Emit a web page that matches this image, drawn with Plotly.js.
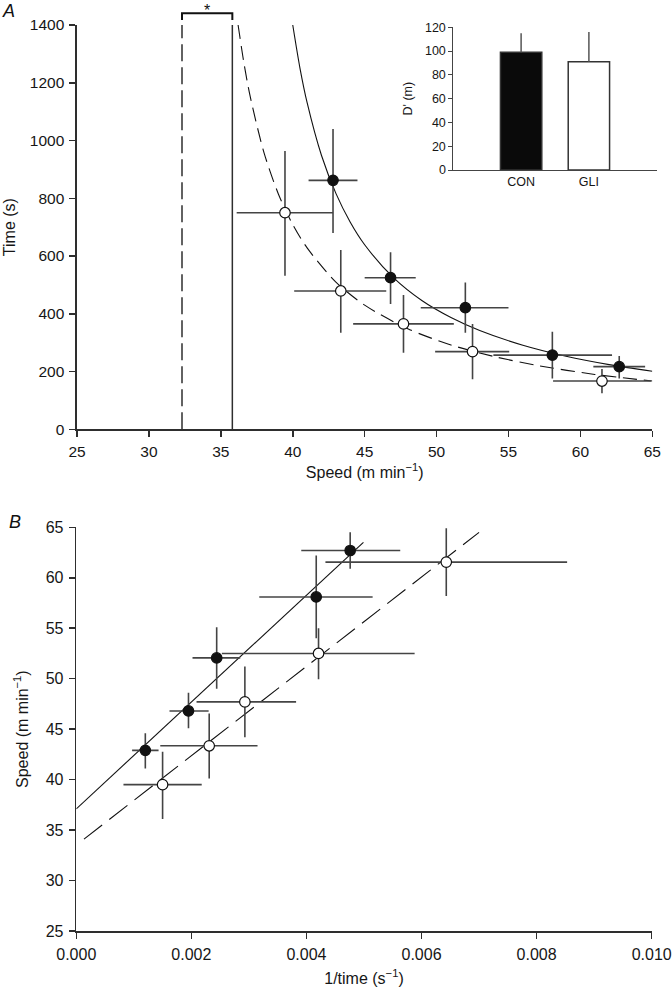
<!DOCTYPE html>
<html>
<head>
<meta charset="utf-8">
<script src="https://cdn.plot.ly/plotly-3.0.1.min.js"></script>
<style>html,body{margin:0;padding:0;background:#fff;}#chart{width:672px;height:987px;}</style>
</head>
<body>
<div id="chart"></div>
<script>
// ---------- Panel A: time vs speed ----------
var conSpeed   = [42.8, 46.8, 52.0, 58.05, 62.7];
var conTime    = [862, 525, 421, 257, 217];
var conSpeedLo = [41.1, 45.0, 48.9, 53.95, 60.9];
var conSpeedHi = [44.5, 48.55, 55.0, 62.2, 64.5];
var conTimeLo  = [680, 434, 334, 176, 176];
var conTimeHi  = [1040, 613, 508, 338, 254];

var gliSpeed   = [39.46, 43.34, 47.7, 52.5, 61.5];
var gliTime    = [750, 479, 365, 269, 167];
var gliSpeedLo = [36.1, 40.1, 44.2, 49.9, 58.1];
var gliSpeedHi = [42.8, 46.5, 51.2, 55.05, 64.9];
var gliTimeLo  = [532, 334, 265, 173, 125];
var gliTimeHi  = [964, 621, 465, 365, 209];

// hyperbolic fit curves
var conCurveSpeed = [40.0, 40.5, 41, 42, 43, 44, 45, 47, 49, 51, 53, 56, 59, 62, 65];
var conCurveTime  = [1400, 1251, 1131, 948, 817, 717, 639, 525, 445, 387, 342, 291, 253, 224, 201];
var gliCurveSpeed = [36.2, 36.6, 37, 38, 39, 40, 41, 43, 45, 48, 51, 54, 57, 61, 65];
var gliCurveTime  = [1400, 1270, 1162, 958, 815, 709, 628, 510, 430, 348, 292, 252, 221, 190, 167];

// critical speed (vertical lines): [CON, GLI]
var criticalSpeed = [35.8, 32.3];
var timeAxisMax = 1400;

// ---------- Inset: D' ----------
var groups = ['CON', 'GLI'];
var dPrime = [99, 91];
var dPrimeErr = [16, 25];

// ---------- Panel B: speed vs 1/time ----------
var conInv   = [0.00120, 0.00195, 0.00244, 0.00417, 0.00476];
var conSpd   = [42.9, 46.8, 52.06, 58.1, 62.7];
var conInvLo = [0.00097, 0.00162, 0.00202, 0.00318, 0.00391];
var conInvHi = [0.00143, 0.00230, 0.00285, 0.00515, 0.00563];
var conSpdLo = [41.1, 45.1, 49.0, 54.0, 60.9];
var conSpdHi = [44.6, 48.6, 55.1, 62.2, 64.5];

var gliInv   = [0.00150, 0.00231, 0.00293, 0.00421, 0.00643];
var gliSpd   = [39.5, 43.35, 47.7, 52.5, 61.55];
var gliInvLo = [0.00082, 0.00146, 0.00209, 0.00253, 0.00433];
var gliInvHi = [0.00218, 0.00315, 0.00382, 0.00588, 0.00853];
var gliSpdLo = [36.1, 40.1, 44.2, 49.95, 58.2];
var gliSpdHi = [42.75, 46.55, 51.2, 55.0, 64.9];

var conFitX = [0, 0.00499];
var conFitY = [37.1, 63.5];
var gliFitX = [0.000134, 0.0070];
var gliFitY = [34.1, 64.5];

// ---------- helpers ----------
function diff(a, b) { return a.map(function (v, i) { return v - b[i]; }); }
var FONT = 'Liberation Sans, Arial, Helvetica, sans-serif';
var AX = '#2e2e2e';
var ERR = '#444444';
var TXT = '#161616';
var DASH_A = '14px,7px';
var DASH_B = '23px,9px';

function pts(x, y, xlo, xhi, ylo, yhi, filled, xa, ya) {
  return {
    x: x, y: y, xaxis: xa, yaxis: ya, type: 'scatter', mode: 'markers',
    marker: { size: 10.5, color: filled ? '#111111' : '#ffffff', line: { color: '#111111', width: 1.2 } },
    error_x: { type: 'data', symmetric: false, array: diff(xhi, x), arrayminus: diff(x, xlo), width: 0, thickness: 1.6, color: ERR },
    error_y: { type: 'data', symmetric: false, array: diff(yhi, y), arrayminus: diff(y, ylo), width: 0, thickness: 1.6, color: ERR },
    showlegend: false, hoverinfo: 'x+y'
  };
}

var traces = [
  { x: conCurveSpeed, y: conCurveTime, xaxis: 'x', yaxis: 'y', type: 'scatter', mode: 'lines',
    line: { color: '#111', width: 1.1, shape: 'spline', smoothing: 0.8 }, showlegend: false },
  { x: gliCurveSpeed, y: gliCurveTime, xaxis: 'x', yaxis: 'y', type: 'scatter', mode: 'lines',
    line: { color: '#111', width: 1.1, dash: DASH_A, shape: 'spline', smoothing: 0.8 }, showlegend: false },
  { x: [criticalSpeed[0], criticalSpeed[0]], y: [0, timeAxisMax], xaxis: 'x', yaxis: 'y', type: 'scatter', mode: 'lines',
    line: { color: AX, width: 1.5 }, showlegend: false },
  { x: [criticalSpeed[1], criticalSpeed[1]], y: [0, timeAxisMax], xaxis: 'x', yaxis: 'y', type: 'scatter', mode: 'lines',
    line: { color: AX, width: 1.5, dash: '17px,6px' }, showlegend: false },
  pts(conSpeed, conTime, conSpeedLo, conSpeedHi, conTimeLo, conTimeHi, true, 'x', 'y'),
  pts(gliSpeed, gliTime, gliSpeedLo, gliSpeedHi, gliTimeLo, gliTimeHi, false, 'x', 'y'),

  { x: groups, y: dPrime, xaxis: 'x2', yaxis: 'y2', type: 'bar', width: 0.61,
    marker: { color: ['#0a0a0a', '#ffffff'], line: { color: '#333', width: 1.5 } },
    error_y: { type: 'data', symmetric: false, array: dPrimeErr, arrayminus: [0, 0], width: 0, thickness: 1.5, color: '#555' },
    showlegend: false },

  { x: conFitX, y: conFitY, xaxis: 'x3', yaxis: 'y3', type: 'scatter', mode: 'lines',
    line: { color: '#111', width: 1.1 }, showlegend: false },
  { x: gliFitX, y: gliFitY, xaxis: 'x3', yaxis: 'y3', type: 'scatter', mode: 'lines',
    line: { color: '#111', width: 1.1, dash: DASH_B }, showlegend: false },
  pts(conInv, conSpd, conInvLo, conInvHi, conSpdLo, conSpdHi, true, 'x3', 'y3'),
  pts(gliInv, gliSpd, gliInvLo, gliInvHi, gliSpdLo, gliSpdHi, false, 'x3', 'y3')
];

function axisBase(extra) {
  var a = {
    showline: true, linecolor: AX, linewidth: 1.6, ticks: 'outside', ticklen: 6, tickwidth: 1.5, tickcolor: AX,
    showgrid: false, zeroline: false, tickfont: { family: FONT, size: 15.5, color: TXT }, fixedrange: true,
    ticklabelstandoff: 2
  };
  for (var k in extra) a[k] = extra[k];
  return a;
}

var layout = {
  width: 672, height: 987,
  margin: { l: 0, r: 0, t: 0, b: 0 },
  paper_bgcolor: '#ffffff', plot_bgcolor: 'rgba(0,0,0,0)',
  font: { family: FONT, color: TXT },
  showlegend: false,
  xaxis: axisBase({ domain: [0.1146, 0.9707], anchor: 'y', range: [25, 65], tick0: 25, dtick: 5,
    title: { text: 'Speed (m min<sup>−1</sup>)', font: { family: FONT, size: 16, color: TXT }, standoff: 7 } }),
  yaxis: axisBase({ domain: [0.56505, 0.97467], anchor: 'x', range: [0, 1400], tick0: 0, dtick: 200,
    title: { text: 'Time (s)', font: { family: FONT, size: 16, color: TXT }, standoff: 10 } }),
  xaxis2: { domain: [0.6746, 0.9772], anchor: 'y2', type: 'category', range: [-1, 2], showline: true, linecolor: '#444', linewidth: 1,
    ticks: '', showgrid: false, zeroline: false, tickfont: { family: FONT, size: 12.5, color: TXT }, fixedrange: true },
  yaxis2: { domain: [0.82776, 0.97234], anchor: 'x2', range: [0, 120], tick0: 0, dtick: 20, showline: true, linecolor: '#444', linewidth: 1,
    ticks: 'outside', ticklen: 4, tickwidth: 1, tickcolor: '#444', showgrid: false, zeroline: false,
    tickfont: { family: FONT, size: 12.5, color: TXT }, fixedrange: true,
    title: { text: "D' (m)", font: { family: FONT, size: 12.5, color: TXT }, standoff: 9 } },
  xaxis3: axisBase({ domain: [0.1135, 0.9698], anchor: 'y3', range: [0, 0.01], tick0: 0, dtick: 0.002, tickformat: '.3f',
    tickfont: { family: FONT, size: 16, color: TXT },
    title: { text: '1/time (s<sup>−1</sup>)', font: { family: FONT, size: 16, color: TXT }, standoff: 12 } }),
  yaxis3: axisBase({ domain: [0.05674, 0.46576], anchor: 'x3', range: [25, 65], tick0: 25, dtick: 5,
    tickfont: { family: FONT, size: 16, color: TXT },
    title: { text: 'Speed (m min<sup>−1</sup>)', font: { family: FONT, size: 16, color: TXT }, standoff: 13 } }),
  shapes: [
    { type: 'path', xref: 'x', yref: 'paper', layer: 'above',
      path: 'M ' + criticalSpeed[1] + ',0.9797 L ' + criticalSpeed[1] + ',0.9865 L ' + criticalSpeed[0] + ',0.9865 L ' + criticalSpeed[0] + ',0.9797',
      line: { color: '#111', width: 2 } }
  ],
  annotations: [
    { text: '*', xref: 'x', yref: 'paper', x: (criticalSpeed[0] + criticalSpeed[1]) / 2, y: 1, yanchor: 'top',
      showarrow: false, font: { family: FONT, size: 16, color: '#111' } },
    { text: '<i>A</i>', xref: 'paper', yref: 'paper', x: 8.5 / 672, y: 1 - 11 / 987, xanchor: 'center', yanchor: 'middle',
      showarrow: false, font: { family: FONT, size: 18, color: '#111' } },
    { text: '<i>B</i>', xref: 'paper', yref: 'paper', x: 15 / 672, y: 1 - 522 / 987, xanchor: 'center', yanchor: 'middle',
      showarrow: false, font: { family: FONT, size: 18, color: '#111' } }
  ]
};

Plotly.newPlot('chart', traces, layout, { staticPlot: true, displayModeBar: false });
</script>
</body>
</html>
